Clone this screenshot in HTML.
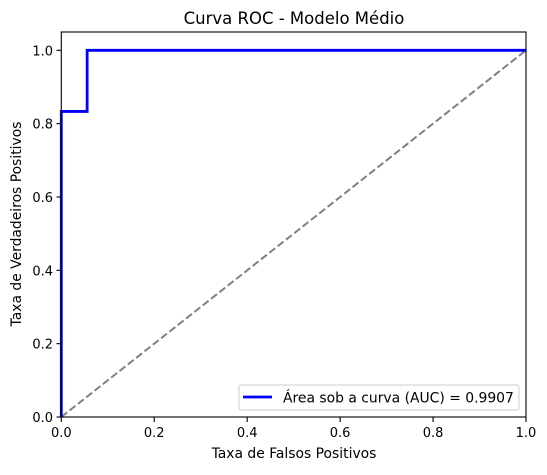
<!DOCTYPE html>
<html><head><meta charset="utf-8"><style>
body{margin:0;background:#fff;}
svg text{font-family:"DejaVu Sans","Liberation Sans",sans-serif;fill:#000;}
</style></head><body>
<svg id="chart" width="547" height="470" viewBox="0 0 547 470" xmlns="http://www.w3.org/2000/svg">
<text x="294" y="24" font-size="16.5" text-anchor="middle">Curva ROC - Modelo Médio</text>
<g id="grid"></g>
<rect x="61.3" y="32" width="464.7" height="385" fill="none" stroke="#000" stroke-width="1.1"/>
<text x="294" y="458" font-size="13.9" text-anchor="middle">Taxa de Falsos Positivos</text>
<text transform="translate(21,224) rotate(-90)" font-size="13.9" text-anchor="middle">Taxa de Verdadeiros Positivos</text>
<g>
<rect x="239" y="385" width="280" height="25" rx="2" fill="#fff" stroke="#ccc"/>
<line x1="243" y1="397" x2="272" y2="397" stroke="blue" stroke-width="2.8"/>
<text x="283" y="402.5" font-size="13.9">Área sob a curva (AUC) = 0.9907</text>
</g>
</svg>
<script>
const fpr = [0, 0, 0.0556, 0.0556, 1];
const tpr = [0, 0.8333, 0.8333, 1, 1];
const ticks = [0, 0.2, 0.4, 0.6, 0.8, 1.0];
const tickLabels = ["0.0","0.2","0.4","0.6","0.8","1.0"];
const ns="http://www.w3.org/2000/svg";
const svg=document.getElementById('chart');
const X=v=>61.3+v*464.7, Y=v=>417-v*366.7;
function mk(t,a){const e=document.createElementNS(ns,t);for(const k in a)e.setAttribute(k,a[k]);return e;}
const g=document.getElementById('grid');
ticks.forEach((t,i)=>{
 const tx=mk('line',{x1:X(t),x2:X(t),y1:417,y2:422,stroke:'#000','stroke-width':1.1});
 
 
 g.appendChild(tx);
 const lx=mk('text',{x:X(t),y:437,'font-size':'13','text-anchor':'middle'});lx.textContent=tickLabels[i];
 
 
 g.appendChild(lx);
 const ty=mk('line',{x1:56.5,x2:61.3,y1:Y(t),y2:Y(t),stroke:'#000','stroke-width':1.1});
 
 
 g.appendChild(ty);
 const ly=mk('text',{x:53,y:Y(t)+5,'font-size':'13','text-anchor':'end'});ly.textContent=tickLabels[i];
 
 
 g.appendChild(ly);
});
const diag=mk('line',{x1:X(0),y1:Y(0),x2:X(1),y2:Y(1),stroke:'gray','stroke-width':2,'stroke-dasharray':'7.4,3.2'});


g.appendChild(diag);
const roc=mk('polyline',{points:fpr.map((f,i)=>X(f)+','+Y(tpr[i])).join(' '),fill:'none',stroke:'blue','stroke-width':2.8});


g.appendChild(roc);
</script>
</body></html>
